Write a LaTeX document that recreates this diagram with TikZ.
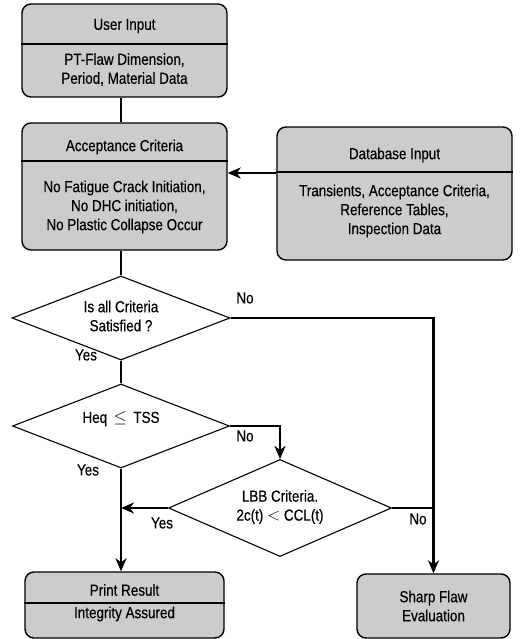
\documentclass[tikz,border=0pt]{standalone}
\usepackage{fontspec}
\setmainfont{Liberation Sans}[FakeStretch=0.84, FakeBold=0.4]
\usetikzlibrary{positioning,arrows.meta,shapes.geometric}

\begin{document}
\begin{tikzpicture}[
  x=1pt, y=-1pt, font=\fontsize{16}{19}\selectfont,
  box/.style={draw, line width=1.4pt, rounded corners=9pt, fill=black!20, inner sep=0pt},
  txt/.style={align=center, inner sep=0pt},
  dia/.style={draw, diamond, line width=1.1pt, inner sep=0pt},
  arr/.style={-{Stealth[length=13pt, width=11pt, inset=4pt]}, line width=2.6pt},
  ln/.style={line width=2.6pt},
  lbl/.style={inner sep=0pt}
]
\useasboundingbox (0,0) rectangle (522,639);
% boxes
\node[box, minimum width=205pt, minimum height=93pt] (user) at (124.5,50.5) {};
\draw[line width=1.4pt] (user.west |- 0,44) -- (user.east |- 0,44);
\node[txt] (userT) at (124.5,26) {User Input};
\node[txt] (userB) at (124.5,69.5) {PT-Flaw Dimension,\\Period, Material Data};

\node[box, minimum width=205pt, minimum height=127pt] (acc) at (124.5,186.5) {};
\draw[line width=1.4pt] (acc.west |- 0,161) -- (acc.east |- 0,161);
\node[txt] (accT) at (124.5,147) {Acceptance Criteria};
\node[txt] (accB) at (124.5,207) {No Fatigue Crack Initiation,\\No DHC initiation,\\No Plastic Collapse Occur};

\node[box, minimum width=235pt, minimum height=133pt] (db) at (394.5,193.5) {};
\draw[line width=1.4pt] (db.west |- 0,172) -- (db.east |- 0,172);
\node[txt] (dbT) at (394.5,155) {Database Input};
\node[txt] (dbB) at (394.5,211) {Transients, Acceptance Criteria,\\Reference Tables,\\Inspection Data};

\node[box, minimum width=199pt, minimum height=66pt] (pr) at (124.5,605) {};
\draw[line width=1.4pt] (pr.west |- 0,603) -- (pr.east |- 0,603);
\node[txt] (prT) at (124.5,590) {Print Result};
\node[txt] (prB) at (124.5,614) {Integrity Assured};

\node[box, minimum width=153pt, minimum height=64pt, txt] (sharp) at (433.5,606) {Sharp Flaw\\Evaluation};

% decisions
\node[dia, minimum width=218pt, minimum height=84pt] (d1) at (121,318) {};
\node[txt] (d1T) at (121,316) {Is all Criteria\\Satisfied ?};
\node[dia, minimum width=217pt, minimum height=84pt] (d2) at (121,426) {};
\node[txt] (d2T) at (121,419) {Heq\, $\leq$\, TSS};
\node[dia, minimum width=223pt, minimum height=97pt] (d3) at (280,508) {};
\node[txt] (d3T) at (280,507) {LBB Criteria.\\2c(t) $<$ CCL(t)};

% connectors
\draw[ln] (user.south -| d1.north) -- (acc.north -| d1.north);
\draw[arr] (db.west |- 0,173) -- (acc.east |- 0,173);
\draw[ln] (acc.south -| d1.north) -- (d1.north);
\draw[arr] (d1.east) -| (sharp.north);
\draw[ln] (d1.south) -- (d2.north);
\draw[arr] (d2.east) -| (d3.north);
\draw[arr] (d2.south) -- (pr.north -| d2.south);
\draw[arr] (d3.west) -- (d3.west -| d2.south);
\draw[ln] (d3.east) -- (d3.east -| sharp.north);

% labels
\node[lbl] (no1) at (245,298) {No};
\node[lbl] (yes1) at (86,355) {Yes};
\node[lbl] (no2) at (245,436) {No};
\node[lbl] (yes2) at (88,470) {Yes};
\node[lbl] (yes3) at (162,523) {Yes};
\node[lbl] (no3) at (418,519) {No};
\end{tikzpicture}
\end{document}
